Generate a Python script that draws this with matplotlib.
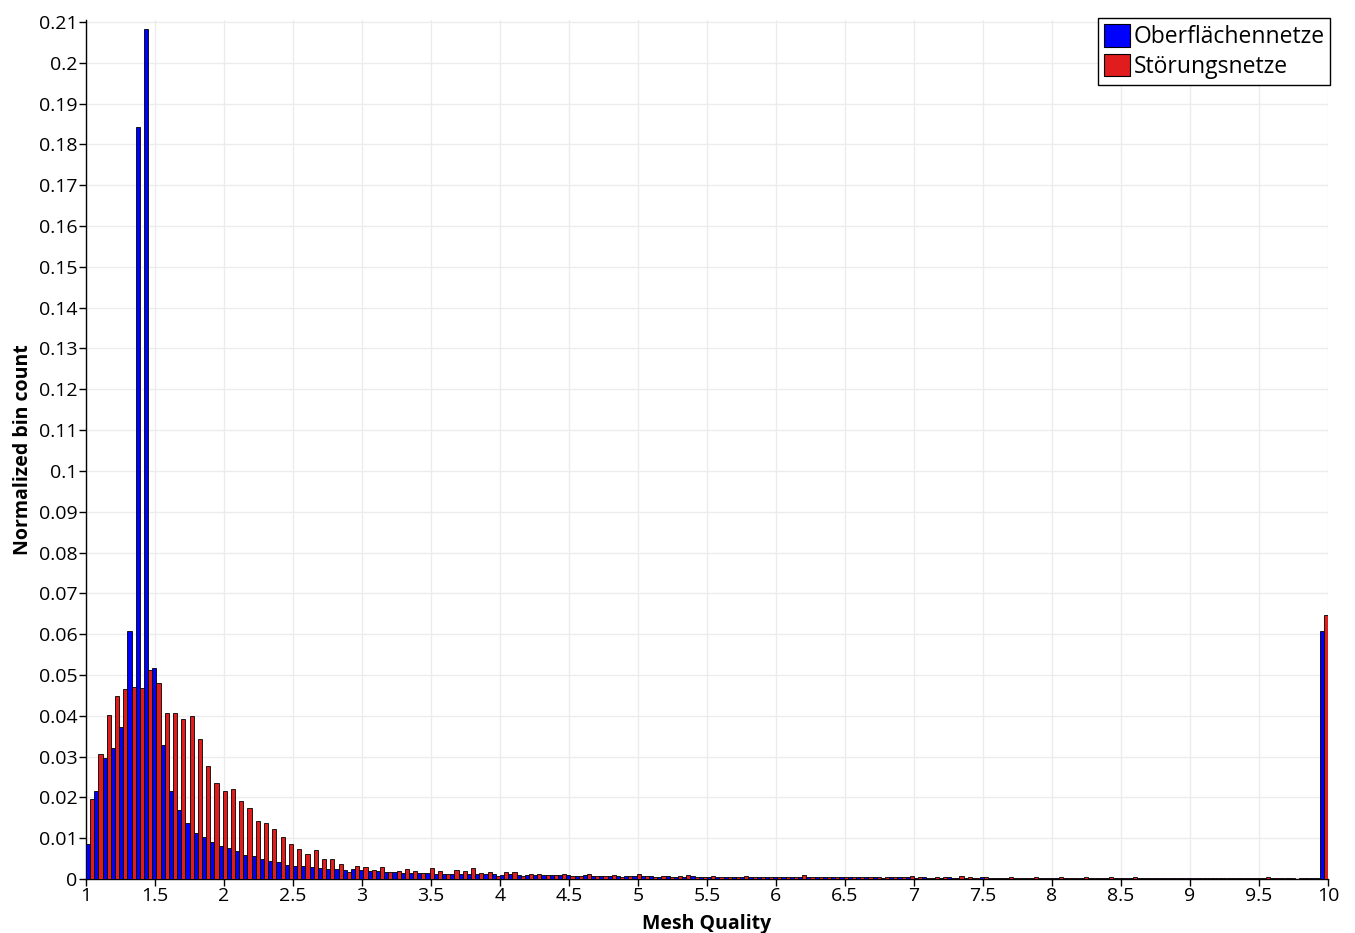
import numpy as np
import matplotlib
matplotlib.use('Agg')
import matplotlib.pyplot as plt
from matplotlib.patches import Patch

# Histogram of mesh quality, 150 bins between 1 and 10
bin_lo, bin_hi, n_bins = 1.0, 10.0, 150

series_names = ['Oberflächennetze', 'Störungsnetze']

oberflaeche = [
	0.0085, 0.0216, 0.0297, 0.0320, 0.0372, 0.0607, 0.1843, 0.2083, 0.0516, 0.0328,
	0.0215, 0.0168, 0.0136, 0.0113, 0.0103, 0.0091, 0.0081, 0.0075, 0.0068, 0.0059,
	0.0056, 0.0048, 0.0043, 0.0041, 0.0035, 0.0033, 0.0032, 0.0029, 0.0028, 0.0025,
	0.0024, 0.0022, 0.0024, 0.0022, 0.0020, 0.0019, 0.0017, 0.0017, 0.0015, 0.0015,
	0.0014, 0.0014, 0.0013, 0.0012, 0.0013, 0.0012, 0.0011, 0.0012, 0.0011, 0.0011,
	0.0010, 0.0011, 0.0010, 0.0010, 0.0009, 0.0010, 0.0009, 0.0009, 0.0009, 0.0008,
	0.0009, 0.0008, 0.0008, 0.0007, 0.0008, 0.0007, 0.0007, 0.0008, 0.0007, 0.0006,
	0.0007, 0.0006, 0.0006, 0.0007, 0.0006, 0.0006, 0.0005, 0.0006, 0.0006, 0.0005,
	0.0005, 0.0006, 0.0005, 0.0005, 0.0005, 0.0004, 0.0005, 0.0005, 0.0004, 0.0005,
	0.0004, 0.0004, 0.0005, 0.0004, 0.0004, 0.0004, 0.0003, 0.0004, 0.0004, 0.0004,
	0.0003, 0.0004, 0.0003, 0.0003, 0.0004, 0.0003, 0.0003, 0.0003, 0.0004, 0.0003,
	0.0003, 0.0003, 0.0003, 0.0002, 0.0003, 0.0003, 0.0003, 0.0002, 0.0003, 0.0003,
	0.0002, 0.0003, 0.0002, 0.0003, 0.0002, 0.0002, 0.0003, 0.0002, 0.0002, 0.0002,
	0.0002, 0.0002, 0.0003, 0.0002, 0.0002, 0.0002, 0.0002, 0.0002, 0.0002, 0.0002,
	0.0002, 0.0002, 0.0002, 0.0002, 0.0002, 0.0002, 0.0001, 0.0002, 0.0002, 0.0607,
]

stoerung = [
	0.0195, 0.0307, 0.0401, 0.0449, 0.0466, 0.0470, 0.0469, 0.0513, 0.0481, 0.0407,
	0.0407, 0.0393, 0.0399, 0.0344, 0.0277, 0.0235, 0.0216, 0.0220, 0.0191, 0.0173,
	0.0143, 0.0136, 0.0122, 0.0104, 0.0086, 0.0073, 0.0060, 0.0071, 0.0048, 0.0048,
	0.0036, 0.0018, 0.0033, 0.0029, 0.0022, 0.0029, 0.0018, 0.0020, 0.0024, 0.0020,
	0.0014, 0.0027, 0.0020, 0.0013, 0.0022, 0.0020, 0.0026, 0.0014, 0.0018, 0.0007,
	0.0016, 0.0018, 0.0008, 0.0013, 0.0011, 0.0010, 0.0010, 0.0011, 0.0008, 0.0008,
	0.0013, 0.0008, 0.0007, 0.0009, 0.0006, 0.0008, 0.0011, 0.0007, 0.0006, 0.0008,
	0.0006, 0.0007, 0.0010, 0.0006, 0.0005, 0.0007, 0.0006, 0.0005, 0.0006, 0.0008,
	0.0005, 0.0006, 0.0005, 0.0004, 0.0006, 0.0005, 0.0010, 0.0005, 0.0004, 0.0005,
	0.0004, 0.0004, 0.0005, 0.0004, 0.0004, 0.0005, 0.0004, 0.0004, 0.0005, 0.0008,
	0.0004, 0.0003, 0.0004, 0.0004, 0.0003, 0.0008, 0.0004, 0.0003, 0.0004, 0.0003,
	0.0003, 0.0004, 0.0003, 0.0003, 0.0004, 0.0003, 0.0003, 0.0004, 0.0003, 0.0003,
	0.0004, 0.0003, 0.0003, 0.0006, 0.0003, 0.0003, 0.0004, 0.0003, 0.0002, 0.0003,
	0.0003, 0.0002, 0.0003, 0.0003, 0.0002, 0.0003, 0.0002, 0.0003, 0.0002, 0.0002,
	0.0003, 0.0002, 0.0004, 0.0002, 0.0003, 0.0002, 0.0002, 0.0003, 0.0002, 0.0647,
]

x_ticks = [1, 1.5, 2, 2.5, 3, 3.5, 4, 4.5, 5, 5.5, 6, 6.5, 7, 7.5, 8, 8.5, 9, 9.5, 10]
x_ticklabels = ['1', '1.5', '2', '2.5', '3', '3.5', '4', '4.5', '5', '5.5', '6',
				'6.5', '7', '7.5', '8', '8.5', '9', '9.5', '10']
y_ticks = [0.00, 0.01, 0.02, 0.03, 0.04, 0.05, 0.06, 0.07, 0.08, 0.09, 0.10, 0.11,
		   0.12, 0.13, 0.14, 0.15, 0.16, 0.17, 0.18, 0.19, 0.20, 0.21]
y_ticklabels = ['0', '0.01', '0.02', '0.03', '0.04', '0.05', '0.06', '0.07', '0.08',
				'0.09', '0.1', '0.11', '0.12', '0.13', '0.14', '0.15', '0.16', '0.17',
				'0.18', '0.19', '0.2', '0.21']

colors = ['#0000ff', '#e01c1c']

plt.rcParams['font.family'] = ['Open Sans', 'DejaVu Sans']

fig = plt.figure(figsize=(13.55, 9.33), dpi=100)
ax = fig.add_axes([0.0635, 0.0579, 0.9165, 0.9207])

edges = np.linspace(bin_lo, bin_hi, n_bins + 1)
bw = (edges[1] - edges[0]) / 2
ax.bar(edges[:-1], oberflaeche, width=bw, align='edge', color=colors[0],
	   edgecolor='black', linewidth=0.6, zorder=3)
ax.bar(edges[:-1] + bw, stoerung, width=bw, align='edge', color=colors[1],
	   edgecolor='black', linewidth=0.6, zorder=3)

ax.set_xlim(bin_lo, bin_hi)
ax.set_ylim(0, 0.2105)
ax.set_xticks(x_ticks)
ax.set_xticklabels(x_ticklabels)
ax.set_yticks(y_ticks)
ax.set_yticklabels(y_ticklabels)
ax.tick_params(axis='both', labelsize=14, length=5, width=1, pad=1, colors='black')

ax.grid(True, color='#ececec', linewidth=1.0, zorder=0)
ax.set_axisbelow(True)
for s in ['top', 'right']:
	ax.spines[s].set_visible(False)
for s in ['left', 'bottom']:
	ax.spines[s].set_linewidth(1.0)

ax.set_xlabel('Mesh Quality', fontsize=14, fontweight='bold', labelpad=6)
ax.set_ylabel('Normalized bin count', fontsize=14, fontweight='bold', labelpad=4)

handles = [Patch(facecolor=colors[0], edgecolor='black', linewidth=0.8),
		   Patch(facecolor=colors[1], edgecolor='black', linewidth=0.8)]
leg = ax.legend(handles, series_names, loc='upper right', bbox_to_anchor=(1.002, 1.002),
				fontsize=16.5, frameon=True, fancybox=False, framealpha=1,
				handlelength=1.15, handleheight=1.15, handletextpad=0.15,
				borderpad=0.25, labelspacing=0.2, borderaxespad=0.0)
leg.get_frame().set_edgecolor('black')
leg.get_frame().set_linewidth(1.0)

fig.savefig('out.png', dpi=100)
